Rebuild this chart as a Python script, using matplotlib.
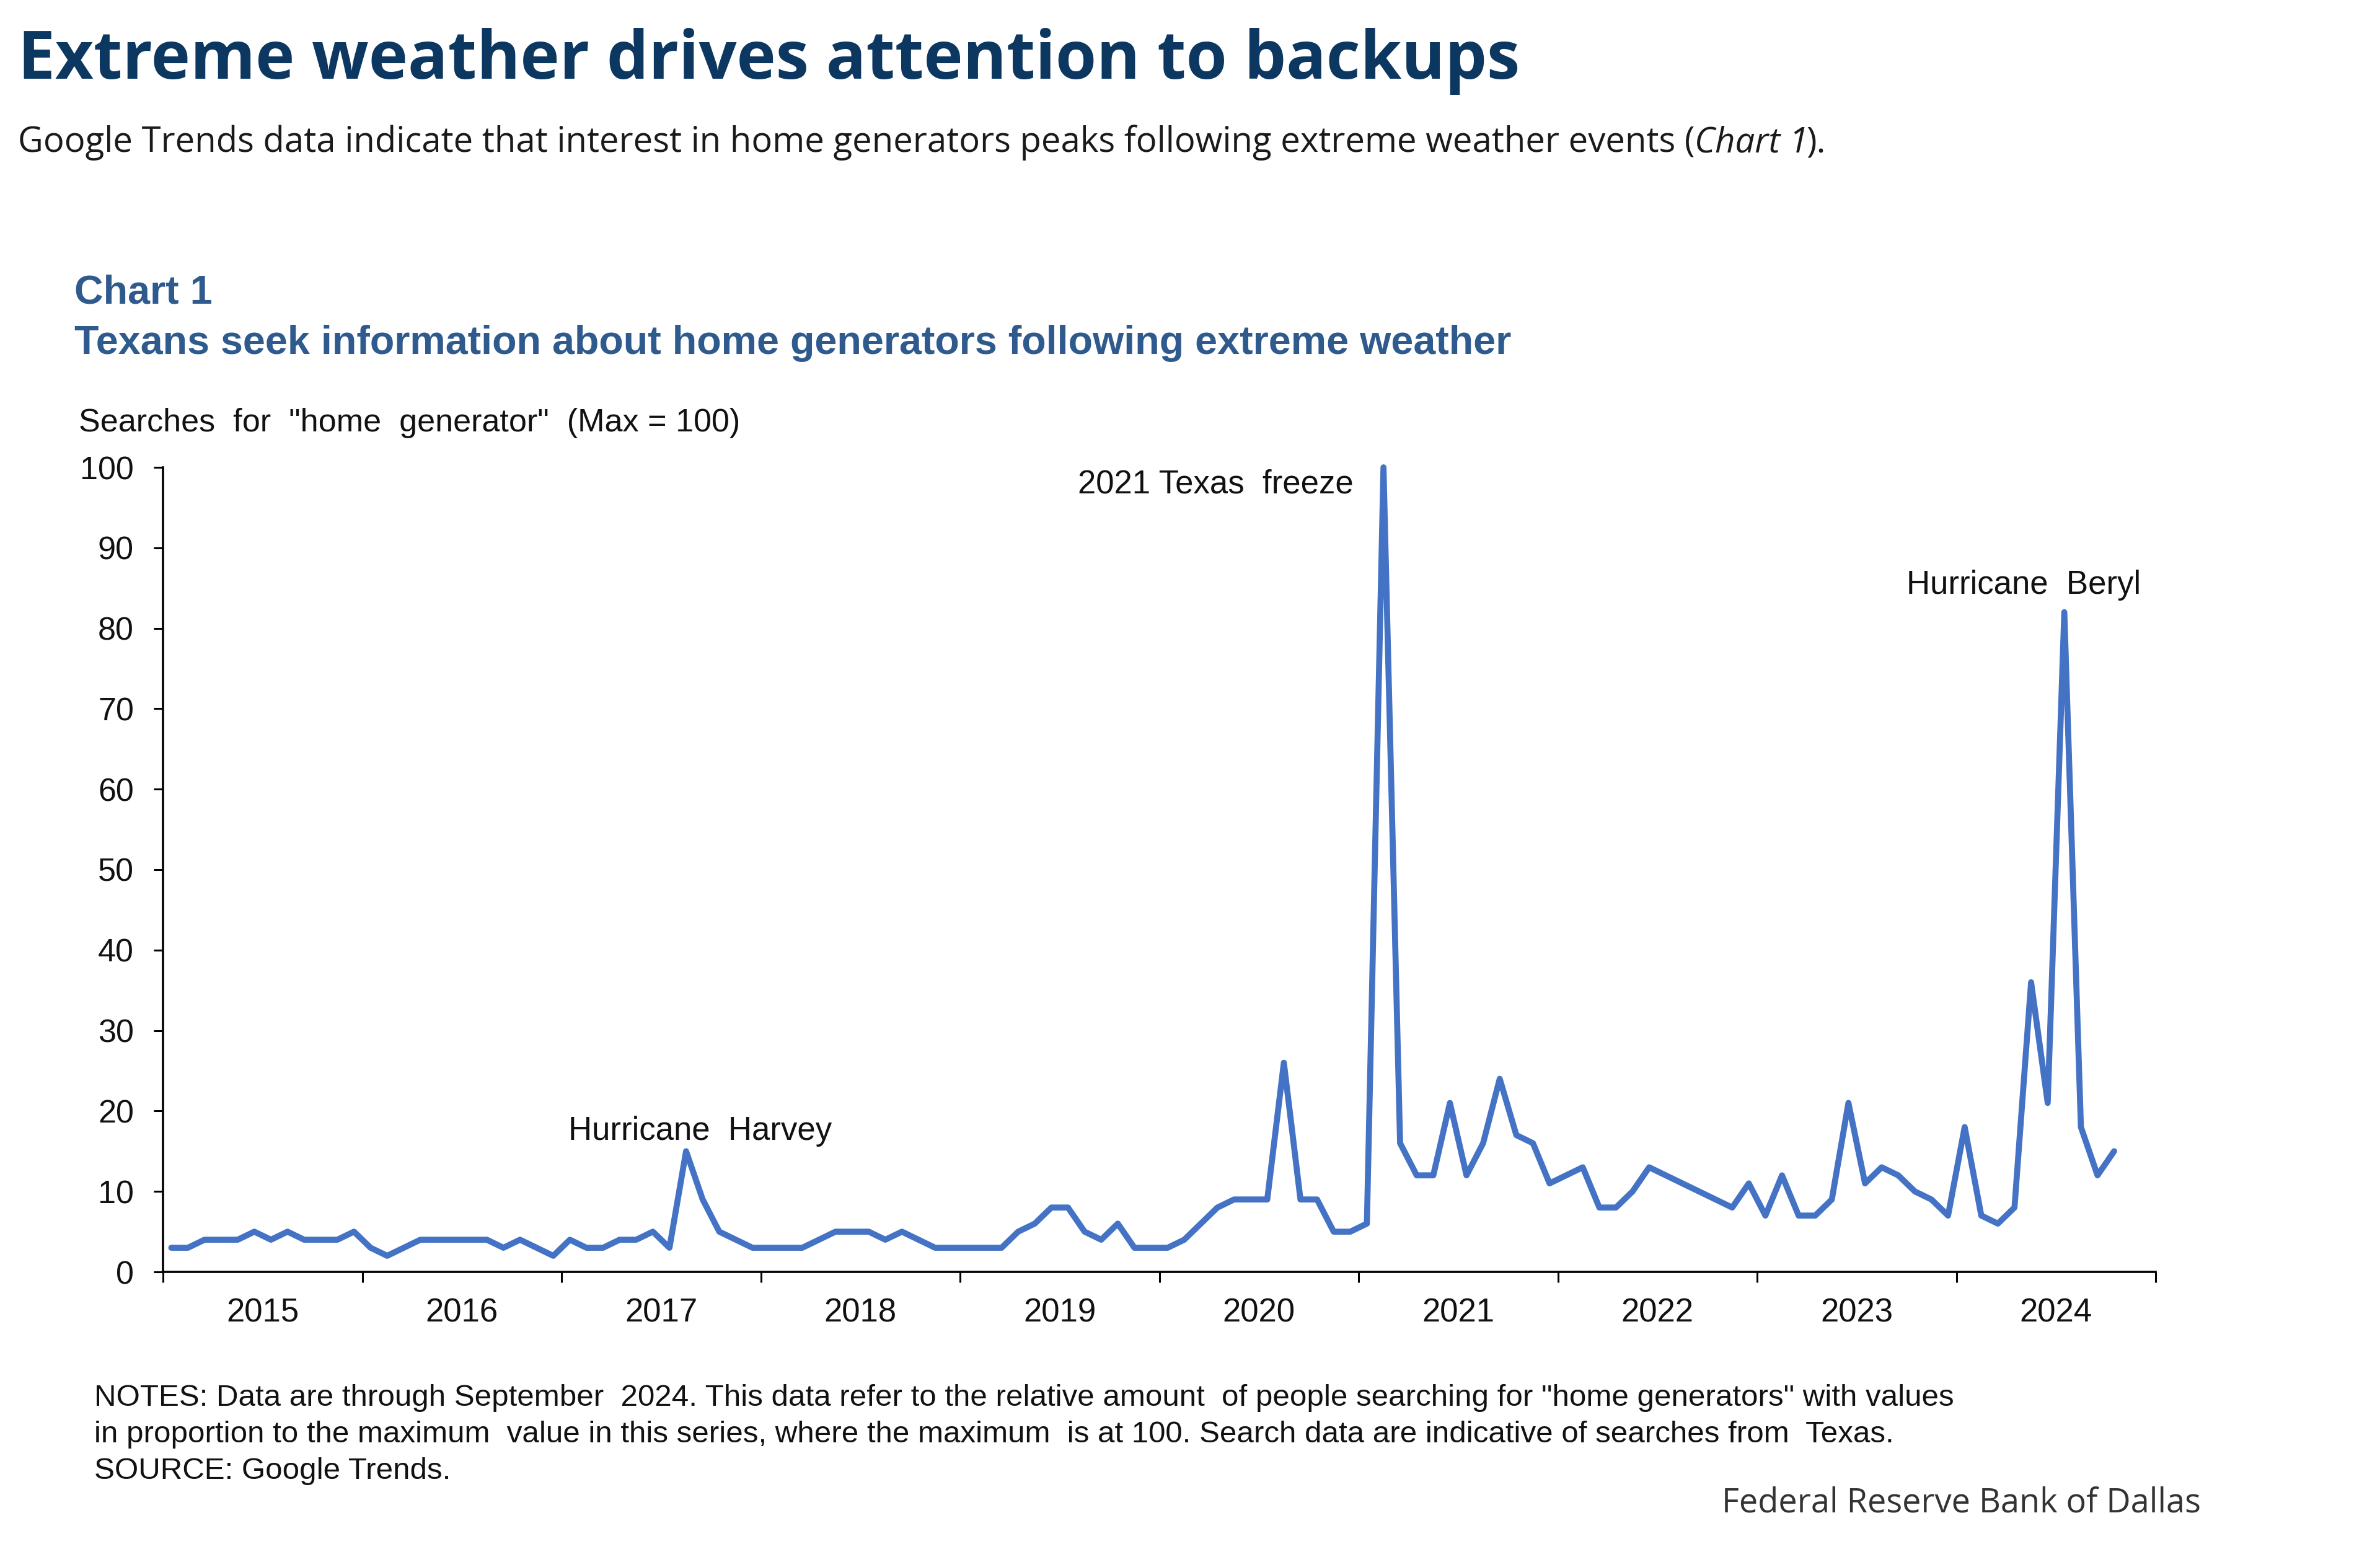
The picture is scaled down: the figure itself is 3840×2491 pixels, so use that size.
import numpy as np
import matplotlib.pyplot as plt

# Google Trends: monthly searches for "home generator" in Texas, from Jan 2015
start_year = 2015
searches = [
    3, 3, 4, 4, 4, 5, 4, 5, 4, 4, 4, 5,          # 2015
    3, 2, 3, 4, 4, 4, 4, 4, 3, 4, 3, 2,          # 2016
    4, 3, 3, 4, 4, 5, 3, 15, 9, 5, 4, 3,         # 2017
    3, 3, 3, 4, 5, 5, 5, 4, 5, 4, 3, 3,          # 2018
    3, 3, 3, 5, 6, 8, 8, 5, 4, 6, 3, 3,          # 2019
    3, 4, 6, 8, 9, 9, 9, 26, 9, 9, 5, 5,         # 2020
    6, 100, 16, 12, 12, 21, 12, 16, 24, 17, 16, 11,  # 2021
    12, 13, 8, 8, 10, 13, 12, 11, 10, 9, 8, 11,  # 2022
    7, 12, 7, 7, 9, 21, 11, 13, 12, 10, 9, 7,    # 2023
    18, 7, 6, 8, 36, 21, 82, 18, 12, 15,         # 2024
]
year_labels = [str(y) for y in range(2015, 2025)]

events = ['Hurricane  Harvey', '2021 Texas  freeze', 'Hurricane  Beryl']

W, H = 3840, 2491
fig = plt.figure(figsize=(W / 100, H / 100), dpi=100)
fig.patch.set_facecolor('white')
renderer = fig.canvas.get_renderer()


def fx(x):
    return x / W


def fy(y):
    return 1 - y / H


chart_font = 'Liberation Sans'
navy = '#0b3760'
chart_blue = '#2f5a8e'
ink = '#111111'

# Заголовки
fig.text(fx(29), fy(127), 'Extreme weather drives attention to backups',
         fontsize=77, fontweight='bold', color=navy, family='Open Sans', va='baseline')

# Подзаголовок: обычный текст + курсив "Chart 1"
sub_parts = [
    ('Google Trends data indicate that interest in home generators peaks following '
     'extreme weather events (', 'normal'),
    ('Chart 1', 'italic'),
    (').', 'normal'),
]
x_px = 29
for part, style in sub_parts:
    t = fig.text(fx(x_px), fy(245), part, fontsize=40.5, color='#1a1a1a',
                 family='Open Sans', style=style, va='baseline')
    x_px += t.get_window_extent(renderer).width + (-4 if style == 'italic' else 0)

fig.text(fx(120), fy(490), 'Chart 1', fontsize=46.5, fontweight='bold',
         color=chart_blue, family=chart_font, va='baseline')
fig.text(fx(120), fy(571),
         'Texans seek information about home generators following extreme weather',
         fontsize=46.5, fontweight='bold', color=chart_blue, family=chart_font, va='baseline')
fig.text(fx(127), fy(696), 'Searches  for  "home  generator"  (Max = 100)',
         fontsize=37.5, color=ink, family=chart_font, va='baseline')

# График
ax = fig.add_axes([fx(263), fy(2052), fx(3478) - fx(263), fy(754) - fy(2052)])
months = np.arange(len(searches)) + 0.5
ax.plot(months, searches, color='#4472c4', linewidth=7, clip_on=False,
        solid_joinstyle='round', solid_capstyle='round')

ax.set_xlim(0, 120)
ax.set_ylim(0, 100)
ax.spines['top'].set_visible(False)
ax.spines['right'].set_visible(False)
ax.spines['left'].set_linewidth(2.6)
ax.spines['bottom'].set_linewidth(2.6)

ax.set_yticks(range(0, 101, 10))
ax.tick_params(axis='y', direction='out', length=11, width=2.2, pad=23,
               labelsize=37.5)
ax.set_xticks(range(0, 121, 12))
ax.set_xticklabels([])
ax.set_xticks(np.arange(len(year_labels)) * 12 + 6, minor=True)
ax.set_xticklabels(year_labels, minor=True)
ax.tick_params(axis='x', which='major', direction='out', length=12, width=2.2)
ax.tick_params(axis='x', which='minor', length=0, pad=30, labelsize=38)
for lab in ax.get_xticklabels(minor=True) + ax.get_yticklabels():
    lab.set_family(chart_font)
    lab.set_color(ink)

# Подписи событий
ax.text(24.4, 16.4, events[0], fontsize=38, family=chart_font, color=ink,
        va='baseline', ha='left')
ax.text(71.7, 96.8, events[1], fontsize=38, family=chart_font, color=ink,
        va='baseline', ha='right')
ax.text(105.0, 84.3, events[2], fontsize=38, family=chart_font, color=ink,
        va='baseline', ha='left')

# Примечания
notes = [
    'NOTES: Data are through September  2024. This data refer to the relative amount  of people '
    'searching for "home generators" with values',
    'in proportion to the maximum  value in this series, where the maximum  is at 100. Search data '
    'are indicative of searches from  Texas.',
    'SOURCE: Google Trends.',
]
for k, line in enumerate(notes):
    fig.text(fx(152), fy(2268 + k * 59), line, fontsize=35.5, family=chart_font,
             color=ink, va='baseline')
fig.text(fx(3551), fy(2439), 'Federal Reserve Bank of Dallas', fontsize=39,
         family='Open Sans', color='#333333', ha='right', va='baseline')

fig.savefig('out.png', dpi=100, facecolor='white')
